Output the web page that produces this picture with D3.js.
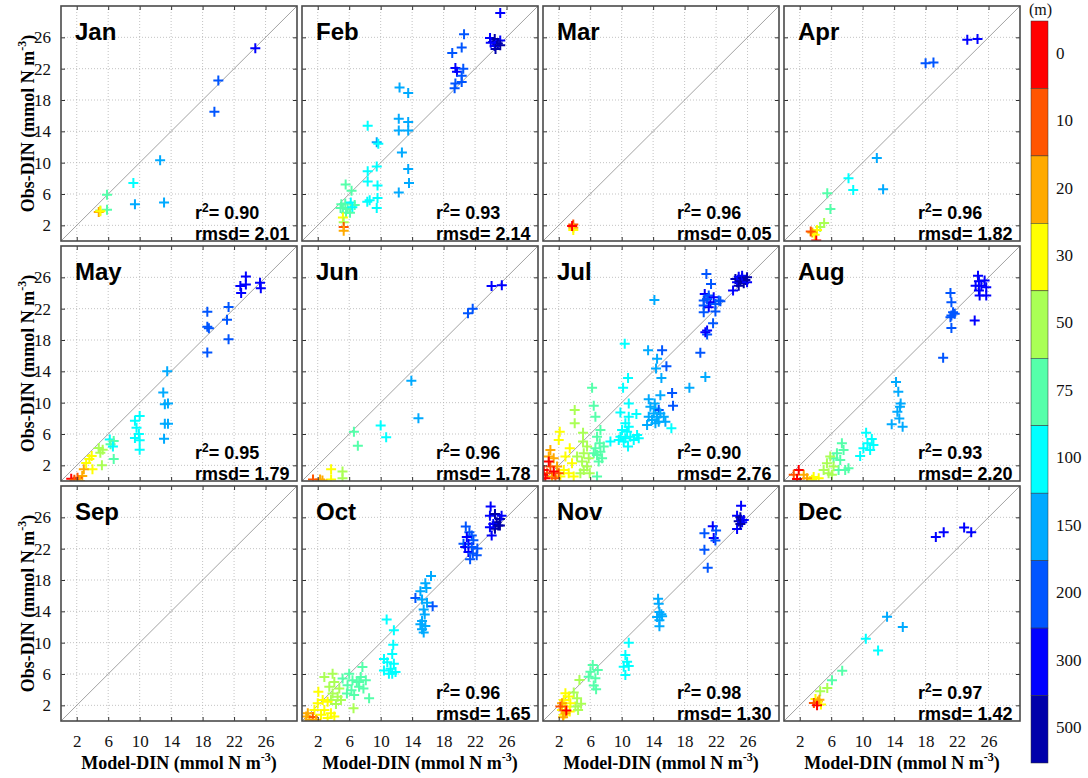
<!DOCTYPE html>
<html>
<head>
<meta charset="utf-8">
<script src="https://cdn.jsdelivr.net/npm/d3@7"></script>
<style>
  body { margin: 0; background: #fff; }
</style>
</head>
<body>
<svg id="chart" width="1088" height="778"></svg>
<script>
// Monthly model vs. observed DIN, coloured by sample depth.
const months = ["Jan","Feb","Mar","Apr","May","Jun","Jul","Aug","Sep","Oct","Nov","Dec"];
const r2Values = ["0.90","0.93","0.96","0.96","0.95","0.96","0.90","0.93",null,"0.96","0.98","0.97"];
const rmsdValues = ["2.01","2.14","0.05","1.82","1.79","1.78","2.76","2.20",null,"1.65","1.30","1.42"];
const axisTicks = [2, 6, 10, 14, 18, 22, 26];
const depthLevels = [0, 10, 20, 30, 50, 75, 100, 150, 200, 300, 500];
const depthColors = ["#ff0000","#ff5500","#ffaa00","#ffff00","#aaff55","#55ffaa","#00ffff","#00aaff","#0055ff","#0000ff","#0000aa"];

// Each point: [model DIN, observed DIN, depth (m)]
const jan = [[24.7,24.6,300],[20.0,20.5,200],[19.5,16.5,200],[12.6,10.3,150],[13.1,4.9,150],[9.2,7.4,100],[9.4,4.7,150],[5.85,5.9,75],[5.85,4.0,75],[5.0,3.9,50],[4.8,3.7,20],[5.0,3.8,30]];
const feb = [[25.2,29.1,300],[20.6,26.4,200],[20.3,24.7,200],[19.1,24.0,200],[19.5,22.1,300],[20.5,22.0,200],[19.7,21.6,300],[20.3,21.1,200],[20.3,20.3,200],[19.5,20.1,200],[19.4,19.5,200],
  [23.9,25.9,300],[24.5,25.8,500],[25.2,25.6,300],[24.3,25.4,500],[24.9,25.2,500],[24.5,24.9,300],[25.2,25.0,500],[24.0,25.3,300],[24.6,24.5,500],
  [12.4,19.6,150],[13.5,18.9,150],[8.35,14.7,100],[12.3,15.6,150],[13.5,15.2,150],[12.3,14.1,150],[13.5,14.1,150],[9.5,12.6,150],[9.7,12.4,100],[12.7,11.3,150],[13.5,9.2,150],[8.35,8.9,100],[9.5,9.5,100],[13.6,7.4,150],[8.35,7.6,100],[9.6,7.1,100],[12.3,6.2,150],[9.6,5.5,100],[8.3,5.0,100],[8.6,5.2,100],[9.5,4.2,100],
  [5.55,7.2,75],[6.3,6.4,75],[5.0,4.7,75],[5.5,4.8,75],[6.2,4.9,100],[6.7,4.6,75],[5.2,4.2,75],[5.8,4.1,75],[6.4,4.3,100],[5.6,3.6,75],[6.1,3.6,75],[4.9,4.2,75],[5.2,3.0,30],[5.3,2.4,50],[5.3,1.8,10],[5.3,1.3,20]];
const mar = [[3.85,2.1,10],[3.85,1.7,20],[3.85,1.4,30],[3.7,1.9,0]];
const apr = [[23.3,25.7,300],[24.6,25.8,300],[18.0,22.7,200],[19.0,22.8,200],[11.8,10.6,150],[12.6,6.6,150],[8.2,8.0,100],[8.8,6.5,100],[5.5,6.1,75],[5.9,4.1,75],[5.1,2.3,50],[4.6,1.8,50],[4.2,1.4,30],[3.6,1.1,20],[3.9,0.8,30],[3.4,1.2,10],[4.1,0.05,0]];
const may = [[23.5,26.1,300],[22.8,24.9,300],[23.5,25.1,300],[22.9,24.0,300],[25.3,25.3,300],[25.4,24.6,300],
  [18.6,21.6,200],[21.3,22.2,200],[18.6,19.7,200],[18.8,19.5,200],[21.1,20.6,200],[21.3,18.1,200],[18.6,16.4,200],
  [13.5,14.0,150],[13.0,11.3,150],[13.2,9.8,150],[13.6,9.9,150],[13.2,7.3,150],[13.6,7.3,150],[13.1,5.4,150],
  [10.0,8.3,100],[9.4,7.7,100],[9.6,6.8,100],[9.9,6.0,100],[9.4,5.5,100],[10.0,5.2,100],[10.0,4.0,100],
  [6.2,5.3,100],[6.7,5.1,75],[6.3,4.7,75],[6.6,4.4,100],[6.7,2.8,75],[5.2,2.0,50],[4.8,4.2,50],[5.3,4.0,50],[5.0,3.6,50],
  [3.9,3.2,30],[3.6,2.8,30],[4.0,1.5,30],[3.2,2.3,30],[2.9,1.5,20],[2.7,0.65,20],[2.1,0.4,10],[1.3,0.3,0],[1.7,0.15,10],[2.4,0.0,20]];
const jun = [[24.1,24.9,300],[25.4,25.0,300],[21.1,21.4,200],[21.7,22.0,200],[13.9,12.8,150],[14.8,8.0,150],[10.0,7.1,100],[10.7,5.6,100],[6.6,6.3,75],[7.1,4.5,75],[5.15,1.2,50],[5.15,0.35,50],[3.7,1.5,30],[3.7,0.2,30],[2.3,0.2,20],[1.4,0.2,10],[2.6,0.05,20]];
const jul = [[24.46,25.79,500],[24.88,26.08,300],[25.31,25.92,500],[25.73,25.66,500],[24.67,25.36,300],[25.09,25.49,500],[25.52,25.24,500],[25.94,25.36,300],[24.88,24.94,500],[24.16,24.31,300],[25.31,26.21,300],[25.94,26.0,500],
  [20.77,26.42,200],[21.36,25.15,200],[20.56,23.88,300],[21.07,23.67,200],[21.7,23.46,300],[22.34,23.03,200],[20.43,23.03,200],[21.28,22.82,300],[21.92,22.61,200],[20.43,22.4,200],[21.07,22.19,300],[22.55,22.95,200],[20.43,21.55,200],[21.92,21.64,200],[20.86,23.25,200],
  [21.62,20.15,200],[20.86,19.22,300],[20.86,18.71,200],[20.64,19.0,300],
  [14.16,23.12,150],[20.0,16.38,200],[20.64,13.29,150],[10.39,17.53,100],[13.36,16.68,150],[15.14,16.68,200],[14.5,15.62,150],[15.69,14.64,200],[14.37,14.35,150],[15.05,13.16,150],[10.81,13.16,100],[10.18,11.89,100],[6.24,11.89,75],[18.61,11.89,150],[16.41,11.25,200],[14.92,10.96,150],[13.44,10.45,150],[14.2,9.9,150],[16.53,9.6,200],[10.9,9.9,100],[6.45,9.6,75],[4.03,9.05,50],[9.84,8.75,100],[11.87,8.54,100],[10.9,8.2,100],
  [13.65,9.47,150],[14.29,9.26,150],[14.71,9.05,200],[14.08,8.63,150],[14.92,8.63,150],[13.44,8.2,150],[14.5,8.2,150],[15.35,8.2,150],[13.86,7.78,150],[14.71,7.57,150],[13.23,7.14,150],[14.29,7.36,150],[15.56,7.57,150],
  [6.66,8.2,75],[4.03,7.36,50],[16.32,6.72,100],
  [10.47,7.36,100],[10.9,6.93,100],[10.05,6.51,100],[10.69,6.3,100],[9.84,5.66,100],[10.47,5.45,100],[11.11,5.66,100],[11.96,5.87,100],[9.63,5.24,100],[10.26,5.03,100],[11.53,5.24,100],[12.17,5.45,100],[10.81,4.39,100],[8.57,5.03,100],
  [7.3,6.51,75],[5.09,6.17,50],[2.13,6.3,30],
  [6.87,5.66,75],[7.21,4.81,75],[6.66,4.18,75],[7.3,3.75,75],[6.87,3.33,75],[7.51,2.91,75],[7.08,2.48,75],[6.45,3.54,75],[7.72,4.39,75],[6.87,0.58,75],
  [5.09,5.03,50],[5.6,4.39,50],[5.18,3.54,50],[5.81,2.91,50],[4.97,2.48,50],[5.6,1.85,50],[5.18,1.42,50],[5.94,1.0,50],[4.75,1.0,50],[4.33,3.12,50],
  [3.4,4.18,30],[2.0,5.24,30],[2.85,3.12,30],[3.69,2.27,30],[2.64,1.42,30],[3.27,1.0,30],[2.21,0.58,30],[3.9,0.58,30],
  [0.94,3.97,20],[1.36,2.91,20],[0.73,3.12,20],[1.79,1.85,20],[1.15,0.58,20],
  [0.52,1.0,10],[0.94,1.85,10],[1.58,0.36,10],[2.0,1.0,10],
  [0.1,1.42,0],[0.3,0.36,0],[0.73,2.48,0],[0.0,0.79,0],[1.36,1.21,0]];
const aug = [[24.66,26.21,300],[25.5,25.58,300],[24.78,25.49,300],[24.36,24.94,300],[25.08,24.94,300],[25.71,24.73,300],[24.78,24.31,300],[25.71,23.67,300],[24.87,23.67,300],[24.24,20.49,300],
  [21.16,24.01,200],[21.28,22.82,200],[21.49,21.55,200],[21.28,21.13,200],[21.7,21.34,200],[21.16,20.92,200],[21.28,19.52,200],[20.23,15.75,200],
  [14.24,12.65,150],[14.53,11.38,150],[14.83,9.9,150],[14.41,8.84,150],[14.66,7.99,150],[13.69,7.23,150],[15.08,6.93,150],[14.74,9.47,150],
  [10.44,6.17,100],[11.16,5.36,100],[10.61,4.81,100],[11.37,4.6,100],[10.1,4.18,100],[10.95,3.97,100],[9.68,3.2,100],
  [7.36,4.81,75],[7.57,3.97,75],[6.73,3.54,75],[6.3,2.91,75],[7.15,2.69,75],[7.78,1.42,75],[6.94,1.42,75],[8.2,1.64,75],
  [5.88,3.12,50],[5.46,2.27,50],[6.3,1.85,50],[5.04,1.42,50],[5.67,1.0,50],[6.09,0.79,50],
  [3.77,0.5,30],[4.41,0.36,30],[3.56,0.15,30],[2.51,0.79,20],[2.93,0.36,20],
  [1.87,1.42,0],[1.24,0.79,10],[1.66,0.24,0]];
const sep = [];
const oct = [[23.98,27.39,300],[23.89,26.21,300],[24.53,26.42,500],[25.16,25.79,500],[24.74,25.37,500],[24.32,25.16,300],[25.16,24.95,500],[24.53,24.53,500],[23.89,24.74,300],[25.37,26.21,300],[24.95,24.95,500],[24.11,23.69,300],
  [20.82,24.82,200],[21.28,24.11,200],[21.58,23.69,200],[20.95,23.48,300],[21.79,23.06,200],[21.16,22.64,300],[20.53,22.64,200],[20.74,22.22,300],[21.58,22.22,200],[22.29,22.01,200],[21.16,21.59,300],[21.71,21.38,200],[21.37,20.66,200],[22.21,21.17,200],
  [16.4,18.52,150],[15.68,17.6,150],[15.81,16.97,150],[15.05,16.55,150],[14.42,15.71,200],[15.26,15.5,150],[15.89,15.08,150],[16.61,14.66,200],[15.47,14.24,150],[15.6,13.61,150],[15.26,12.76,150],[15.68,12.13,150],[15.26,11.71,150],[15.47,11.29,150],[15.05,12.34,150],
  [10.76,12.97,100],[11.68,11.59,100],[11.6,9.74,100],[11.47,8.56,100],[10.42,7.93,100],[10.84,7.51,100],[11.68,7.3,100],[11.26,6.67,100],[10.42,6.45,100],[11.89,6.25,100],[11.47,6.04,100],[11.05,6.04,100],
  [6.0,6.04,75],[6.42,5.2,75],[6.97,4.99,75],[7.47,5.62,75],[7.68,6.88,75],[8.11,5.2,75],[7.26,4.36,75],[5.79,4.57,75],[6.29,3.94,75],[7.81,4.15,75],[8.53,2.89,75],[6.63,3.31,75],[5.16,5.41,75],[5.71,3.52,75],[7.26,4.99,75],
  [6.55,1.63,50],[3.89,6.04,50],[4.11,4.99,50],[3.47,4.36,50],[4.74,4.15,50],[3.89,3.52,50],[4.53,3.1,50],[4.95,2.68,50],[4.32,2.18,50],[3.68,2.68,50],[2.84,5.62,50],
  [2.08,3.73,30],[2.63,2.68,30],[3.26,2.47,30],[2.0,2.26,30],[2.84,1.42,30],[3.68,1.0,30],[1.58,1.42,30],[2.42,0.79,30],[4.11,0.58,30],[3.26,0.37,30],
  [0.53,0.58,20],[0.95,0.16,20],[1.37,0.5,10],[1.79,0.16,20],[0.74,1.0,20]];
const nov = [[25.18,27.48,300],[24.67,26.21,300],[25.09,26.0,500],[25.52,25.66,300],[24.88,25.49,500],[25.31,25.36,300],[24.67,24.52,300],[25.09,25.15,500],
  [21.58,24.86,300],[22.0,24.31,200],[20.52,23.97,200],[21.7,23.37,300],[21.92,23.03,200],[20.52,21.85,200],[20.94,19.56,200],
  [14.63,15.62,150],[14.71,14.98,150],[14.8,13.92,150],[15.05,13.63,150],[14.5,13.29,150],[15.14,13.37,150],[14.8,12.86,150],[14.8,12.1,150],
  [10.9,9.98,100],[10.47,8.42,100],[10.69,7.57,100],[10.9,7.02,100],[10.26,6.93,100],[10.47,5.87,100],
  [6.32,7.14,75],[6.96,6.51,75],[5.81,5.66,75],[6.66,5.45,75],[6.45,4.52,75],[6.75,4.05,75],[6.03,6.3,75],
  [4.63,5.24,50],[3.91,3.63,50],[4.33,2.91,50],[4.84,2.19,50],[4.12,1.85,50],[4.46,1.42,50],
  [2.85,3.54,30],[3.27,3.12,30],[2.64,2.69,30],[3.48,2.27,30],[2.85,1.85,30],[2.42,1.42,30],[3.4,1.21,30],[2.64,0.79,30],
  [2.42,2.27,20],[2.85,1.0,20],[2.55,0.49,20],[2.21,1.85,10],[2.97,1.34,0]];
const dec = [[19.3,23.5,300],[20.3,24.1,300],[22.9,24.7,300],[23.8,24.1,300],[13.1,13.3,150],[15.1,12.0,150],[10.4,10.5,100],[11.96,9.0,100],[7.4,6.4,75],[6.1,5.2,75],[5.5,4.2,50],[4.6,3.8,50],[4.0,2.8,30],[4.3,2.5,20],[4.7,2.1,30],[3.8,2.3,10],[4.2,2.0,0],[4.5,2.7,20]];
const monthPoints = [jan, feb, mar, apr, may, jun, jul, aug, sep, oct, nov, dec];

// Layout
const colLeft = [61, 302, 543, 784];
const rowTop = [6, 246, 486];
const pw = 236, ph = 235;
const serif = "'Liberation Serif', 'Times New Roman', serif";
const sans = "'Liberation Sans', Arial, sans-serif";

const svg = d3.select("#chart");
const x = d3.scaleLinear().domain([0, 30]).range([0, pw]);
const y = d3.scaleLinear().domain([0, 30]).range([ph, 0]);
const colour = d3.scaleOrdinal().domain(depthLevels).range(depthColors);

const defs = svg.append("defs");
defs.append("clipPath").attr("id", "panel-clip")
  .append("rect").attr("width", pw).attr("height", ph);

months.forEach((m, i) => {
  const col = i % 4, row = Math.floor(i / 4);
  const g = svg.append("g").attr("transform", `translate(${colLeft[col]},${rowTop[row]})`);

  // dotted grid
  g.append("g").selectAll("line").data(axisTicks).join("line")
    .attr("x1", d => x(d)).attr("x2", d => x(d)).attr("y1", 0).attr("y2", ph)
    .attr("stroke", "#b4b4b4").attr("stroke-width", 0.8).attr("stroke-dasharray", "1,2");
  g.append("g").selectAll("line").data(axisTicks).join("line")
    .attr("y1", d => y(d)).attr("y2", d => y(d)).attr("x1", 0).attr("x2", pw)
    .attr("stroke", "#b4b4b4").attr("stroke-width", 0.8).attr("stroke-dasharray", "1,2");

  // 1:1 line
  g.append("line")
    .attr("x1", x(0)).attr("y1", y(0)).attr("x2", x(30)).attr("y2", y(30))
    .attr("stroke", "#8a8a8a").attr("stroke-width", 0.8);

  // points
  const pts = g.append("g").attr("clip-path", "url(#panel-clip)");
  pts.selectAll("path").data(monthPoints[i]).join("path")
    .attr("transform", d => `translate(${x(d[0])},${y(d[1])})`)
    .attr("d", "M-5,0H5M0,-5V5")
    .attr("stroke", d => colour(d[2]))
    .attr("stroke-width", 2)
    .attr("fill", "none");

  // axes with inward ticks on all four sides
  const showY = col === 0, showX = row === 2;
  const ax = [
    { a: d3.axisLeft(y), t: "translate(0,0)", lab: showY, pad: 10 },
    { a: d3.axisRight(y), t: `translate(${pw},0)`, lab: false, pad: 10 },
    { a: d3.axisBottom(x), t: `translate(0,${ph})`, lab: showX, pad: 14 },
    { a: d3.axisTop(x), t: "translate(0,0)", lab: false, pad: 10 }
  ];
  ax.forEach(o => {
    const axis = o.a.tickValues(axisTicks).tickSizeInner(-4).tickSizeOuter(0).tickPadding(o.pad)
      .tickFormat(o.lab ? d3.format("d") : () => "");
    const ag = g.append("g").attr("transform", o.t).call(axis);
    ag.select(".domain").remove();
    ag.selectAll(".tick line").attr("stroke", "#333").attr("stroke-width", 1);
    ag.selectAll(".tick text").attr("font-family", serif).attr("font-size", 17).attr("fill", "#111");
  });

  // frame
  g.append("rect").attr("width", pw).attr("height", ph)
    .attr("fill", "none").attr("stroke", "#4a4a4a").attr("stroke-width", 1.6);

  // month label
  g.append("text").attr("x", 14).attr("y", 34)
    .attr("font-family", sans).attr("font-weight", "bold").attr("font-size", 24)
    .attr("fill", "#000").text(m);

  // statistics
  if (r2Values[i] !== null) {
    const t1 = g.append("text").attr("x", 134).attr("y", 213)
      .attr("font-family", sans).attr("font-weight", "bold").attr("font-size", 18).attr("fill", "#000");
    t1.append("tspan").text("r");
    t1.append("tspan").attr("dy", -7).attr("font-size", 12).text("2");
    t1.append("tspan").attr("dy", 7).text("= " + r2Values[i]);
    g.append("text").attr("x", 134).attr("y", 234)
      .attr("font-family", sans).attr("font-weight", "bold").attr("font-size", 18).attr("fill", "#000")
      .text("rmsd= " + rmsdValues[i]);
  }
});

// axis titles
function unitLabel(sel, name) {
  sel.append("tspan").text(name + " (mmol N m");
  sel.append("tspan").attr("dy", -8).attr("font-size", 12).text("-3");
  sel.append("tspan").attr("dy", 8).text(")");
}
rowTop.forEach(t => {
  const tx = svg.append("text")
    .attr("transform", `translate(34,${t + ph / 2}) rotate(-90)`)
    .attr("text-anchor", "middle")
    .attr("font-family", serif).attr("font-weight", "bold").attr("font-size", 18).attr("fill", "#000");
  unitLabel(tx, "Obs-DIN");
});
colLeft.forEach(l => {
  const tx = svg.append("text")
    .attr("x", l + pw / 2).attr("y", 769)
    .attr("text-anchor", "middle")
    .attr("font-family", serif).attr("font-weight", "bold").attr("font-size", 18).attr("fill", "#000");
  unitLabel(tx, "Model-DIN");
});

// depth colour bar
const cbX = 1031, cbW = 17, cbTop = 21, cbBottom = 763;
const cb = d3.scaleBand().domain(depthLevels).range([cbTop, cbBottom]).padding(0);
const cbg = svg.append("g");
cbg.selectAll("rect").data(depthLevels).join("rect")
  .attr("x", cbX).attr("y", d => cb(d)).attr("width", cbW).attr("height", cb.bandwidth())
  .attr("fill", d => colour(d)).attr("stroke", "#333").attr("stroke-width", 0.5);
cbg.selectAll("text").data(depthLevels).join("text")
  .attr("x", cbX + cbW + 8).attr("y", d => cb(d) + cb.bandwidth() / 2)
  .attr("dominant-baseline", "middle")
  .attr("font-family", serif).attr("font-size", 17).attr("fill", "#111")
  .text(d => d);
svg.append("text").attr("x", 1029).attr("y", 15)
  .attr("font-family", serif).attr("font-size", 16).attr("fill", "#111").text("(m)");
</script>
</body>
</html>
